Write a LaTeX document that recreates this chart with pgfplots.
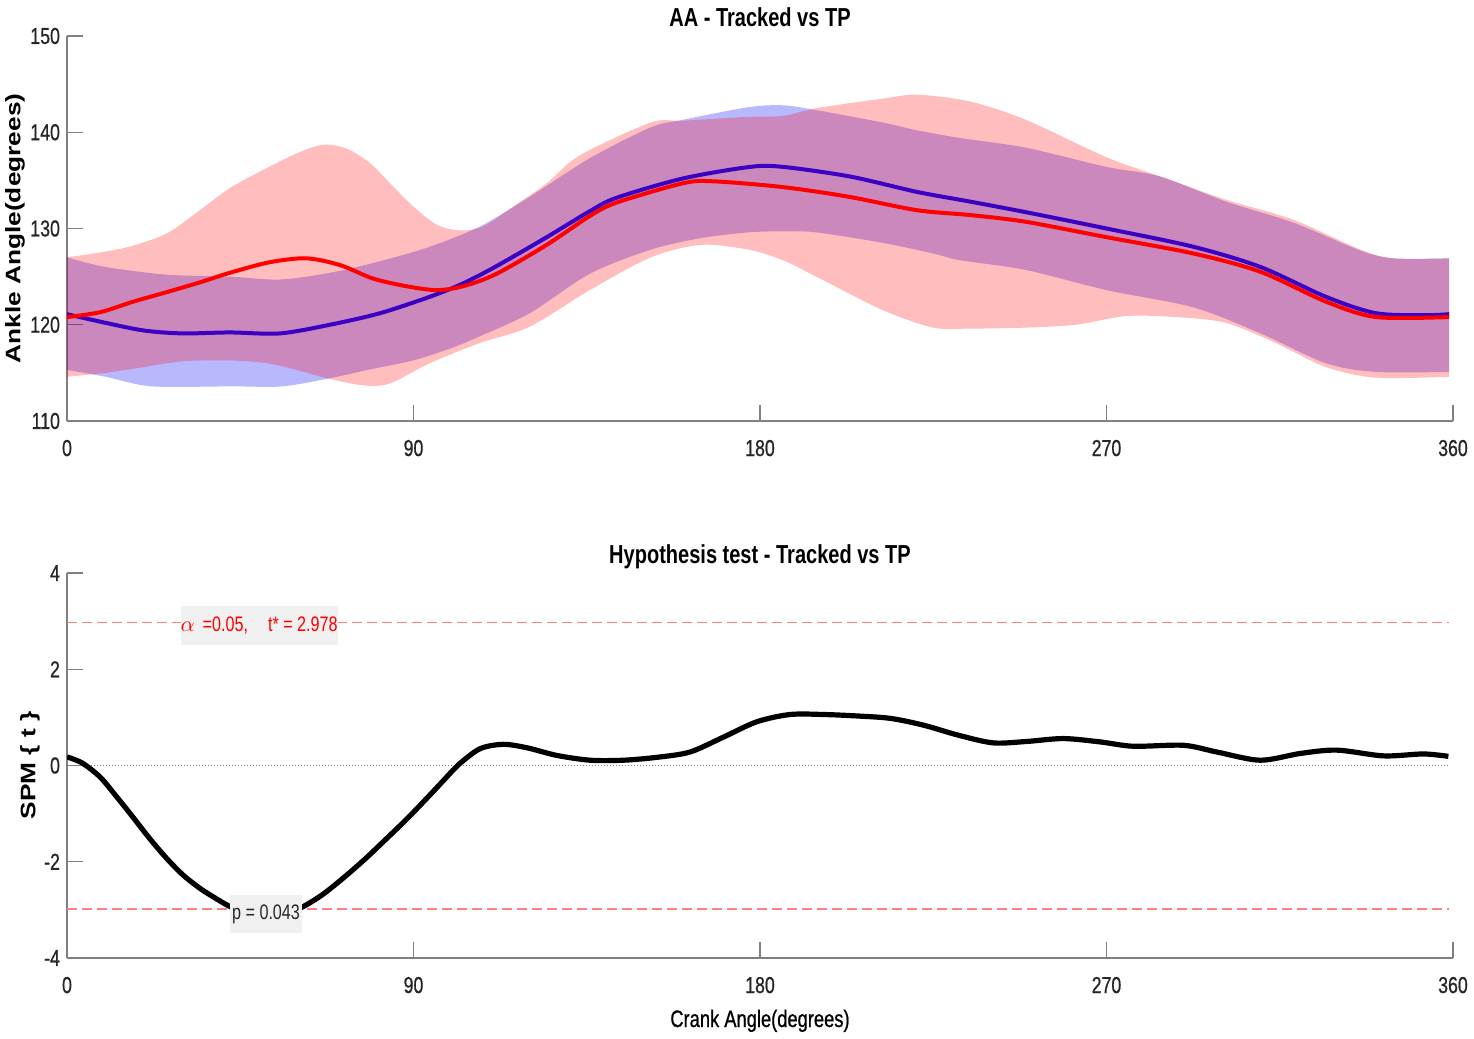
\documentclass[border=0pt]{standalone}
\usepackage{pgfplots}
\pgfplotsset{compat=1.18}
\usepgfplotslibrary{fillbetween}
\usepackage{fontspec}
\setmainfont{Liberation Sans}[FakeStretch=0.77]
\newfontfamily\tickfont{Liberation Sans}[FakeStretch=0.77, FakeBold=0.8]
\newfontfamily\rotfont{Liberation Sans}[FakeStretch=1.25]
\definecolor{axgray}{RGB}{128,128,128}
\definecolor{dashred}{RGB}{255,128,128}
\definecolor{boxgray}{RGB}{240,240,240}
\definecolor{meanblue}{RGB}{60,0,195}
\pgfplotsset{
  every axis title shift=0pt,
  common/.style={
    scale only axis, width=693pt, height=192.5pt,
    xmin=0, xmax=360, xtick={0,90,180,270,360},
    axis lines*=left,
    axis line style={axgray, line width=0.6pt},
    tick align=inside, major tick length=8pt,
    tick style={axgray, line width=0.6pt},
    /pgf/number format/assume math mode=true,
    ticklabel style={font=\tickfont\fontsize{11.5}{11.5}\selectfont, text=black!85},
    xticklabel style={anchor=base, yshift=-17.5pt},
    title style={at={(axis description cs:0.5,1)}, anchor=base, yshift=5pt,
      font=\bfseries\fontsize{13}{13}\selectfont},
    xlabel style={at={(axis description cs:0.5,0)}, anchor=base, yshift=-34.5pt,
      font=\tickfont\fontsize{11.9}{12}\selectfont},
    ylabel style={anchor=center, font=\rotfont\bfseries\fontsize{10.5}{11}\selectfont},
  }
}
\begin{document}
\begin{tikzpicture}
\begin{axis}[common, at={(0,0)},
  ymin=110, ymax=150, ytick={110,120,130,140,150},
  title={AA - Tracked vs TP},
  ylabel={Ankle Angle(degrees)},
  ylabel style={at={(axis description cs:-0.0375,0.5)}},
]
% blue band
\addplot[name path=bu, draw=none, smooth] coordinates {
(0,127.0) (10,126.0) (26,125.2) (42.3,125.0) (55.3,124.7) (68.3,125.4) (81.3,126.6)
(94.2,128.1) (107.2,130.2) (120.2,133.3) (135.8,137.3) (151.6,140.5) (160,141.3)
(177,142.6) (186,142.8) (194.6,142.3) (212,141.0) (220.8,140.2) (232,139.4)
(249,138.4) (270,136.4) (284,135.4) (301,132.8) (318.6,130.6) (336,127.7)
(344.6,126.9) (359,126.9)};
\addplot[name path=bl, draw=none, smooth] coordinates {
(0,115.3) (10,114.6) (22,113.6) (43,113.6) (56,113.6) (69,114.5) (78,115.3)
(90,116.3) (100,117.6) (107.2,118.8) (120.2,121.2) (135.8,125.3) (151.6,127.8)
(164.6,129.0) (177,129.6) (186,129.7) (194.6,129.6) (212,128.5) (225,127.4)
(232,126.7) (249,125.7) (270,123.6) (292.6,121.8) (310,119.1) (327,116.0)
(340,115.1) (359,115.1)};
\addplot[fill=blue, fill opacity=0.28, draw=none] fill between[of=bu and bl];
% red band
\addplot[name path=ru, draw=none, smooth] coordinates {
(0,127.0) (10,127.6) (17,128.2) (26,129.5) (34.5,131.9) (42.3,134.2) (51,136.1)
(59.6,137.8) (66.5,138.7) (72.6,138.3) (78.7,136.8) (83.9,134.7) (89.9,132.3)
(96,130.4) (102,129.8) (108,130.2) (116,132.3) (124.6,134.7) (133.2,137.6)
(151.6,141.0) (160,141.2) (177,141.6) (186,141.7) (194.6,142.5)
(212,143.5) (220.8,143.9) (234.5,143.2) (249,141.3) (270,137.4) (284,135.4)
(301,133.0) (318.6,130.9) (336,127.8) (344.6,126.9) (359,126.9)};
\addplot[name path=rl, draw=none, smooth] coordinates {
(0,114.6) (10,115.0) (20,115.6) (30,116.2) (42.3,116.3) (52,116.0) (59.6,115.3)
(68,114.4) (77,113.7) (83.9,113.9) (94.2,116.0) (107.2,118.1) (120.2,119.8)
(135.8,123.6) (151.6,127.0) (164.6,128.3) (177,127.8) (186,126.7)
(194.6,125.0) (212,121.5) (225,119.7) (234.5,119.6) (249,119.7) (262,120.0)
(275,120.9) (288,120.8) (301,120.2) (314,118.1) (327,115.6) (340,114.5)
(359,114.6)};
\addplot[fill=red, fill opacity=0.26, draw=none] fill between[of=ru and rl];
% blue mean (seen through the red band)
\addplot[meanblue, line width=2pt, smooth] coordinates {
(0,121.1) (10,120.2) (20,119.4) (30,119.1) (42.3,119.2) (55.3,119.1) (68.3,120.0)
(81.3,121.2) (94.2,122.9) (102.9,124.3) (111.6,126.1) (124.6,129.1) (135.8,131.8)
(142.8,133.2) (160,135.2) (177.4,136.4) (186,136.4) (203.4,135.4) (220.8,133.8)
(234.5,132.8) (249,131.7) (270,130.0) (292.6,128.1) (310,126.0) (327,122.9)
(340,121.2) (353,121.0) (359,121.1)};
% red mean
\addplot[red, line width=2pt, smooth] coordinates {
(0,120.8) (8.6,121.3) (17.2,122.4) (26,123.4) (34.5,124.4) (42.3,125.4)
(52.7,126.5) (62.2,126.9) (70.9,126.2) (79.5,124.8) (88.2,124.0) (96,123.6)
(102.9,124.0) (111.6,125.3) (124.6,128.3) (135.8,131.3) (142.8,132.7)
(160,134.7) (168,134.9) (186,134.3)
(203,133.3) (220.8,131.9) (234.5,131.4) (249,130.7) (270,129.1) (292.6,127.4)
(310,125.5) (327,122.4) (340,120.8) (359,120.8)};
\end{axis}

\begin{axis}[common, at={(0,-268.5pt)},
  ymin=-4, ymax=4, ytick={-4,-2,0,2,4},
  title={Hypothesis test - Tracked vs TP},
  xlabel={Crank Angle(degrees)},
  ylabel={SPM \{ t \}},
  ylabel style={at={(axis description cs:-0.0267,0.5)}},
]
\addplot[dashred, dash pattern=on 5pt off 2.5pt, line width=0.7pt] coordinates {(0,2.978) (359,2.978)};
\addplot[dashred, dash pattern=on 5pt off 2.5pt, line width=0.7pt] coordinates {(0,-2.978) (359,-2.978)};
\addplot[axgray, dash pattern=on 0.6pt off 0.9pt, line width=0.5pt] coordinates {(0,0) (359,0)};
\addplot[black, line width=2.6pt, smooth] coordinates {
(0,0.18) (4,0.05) (8.6,-0.24) (12.9,-0.65) (17.2,-1.08) (21.6,-1.53) (26,-1.94)
(30.2,-2.28) (34.5,-2.55) (38,-2.73) (42.3,-2.93)
(47,-3.08) (52,-3.14) (57,-3.08) (61.4,-2.93) (65.7,-2.72) (69,-2.52) (73.5,-2.22)
(78,-1.90) (82.2,-1.58) (86.5,-1.25)
(90,-0.97) (95,-0.55) (100,-0.12) (102,0.04) (107.3,0.35) (113.3,0.44)
(119.4,0.37) (127.2,0.21) (135.9,0.11) (144.5,0.11) (153.2,0.17) (161.8,0.28)
(170.5,0.59) (179.2,0.91) (187.8,1.06) (196.5,1.06) (205.1,1.03) (213.8,0.98)
(222.4,0.84) (231.5,0.63) (240.6,0.47) (249.3,0.50) (258.8,0.56) (268.4,0.49)
(277,0.40) (290,0.42) (298.7,0.28) (309.9,0.11) (320.3,0.25) (329.8,0.32)
(342,0.20) (352.3,0.24) (358.8,0.19)};
\node[fill=boxgray, minimum width=77pt, minimum height=19.5pt, inner sep=0pt,
  font=\fontsize{10.5}{11}\selectfont, text=red] at (axis cs:49.9,2.90)
  {$\alpha$\hspace{4pt}=0.05,\hspace{10pt}t* = 2.978};
\node[fill=boxgray, minimum width=36pt, minimum height=19pt, inner sep=0pt,
  font=\fontsize{10.5}{11}\selectfont, text=black!85] at (axis cs:51.7,-3.09)
  {p = 0.043};
\end{axis}
\pgfresetboundingbox
\path[use as bounding box] (-33.5pt,-309pt) rectangle (703.5pt,210.5pt);
\end{tikzpicture}
\end{document}
